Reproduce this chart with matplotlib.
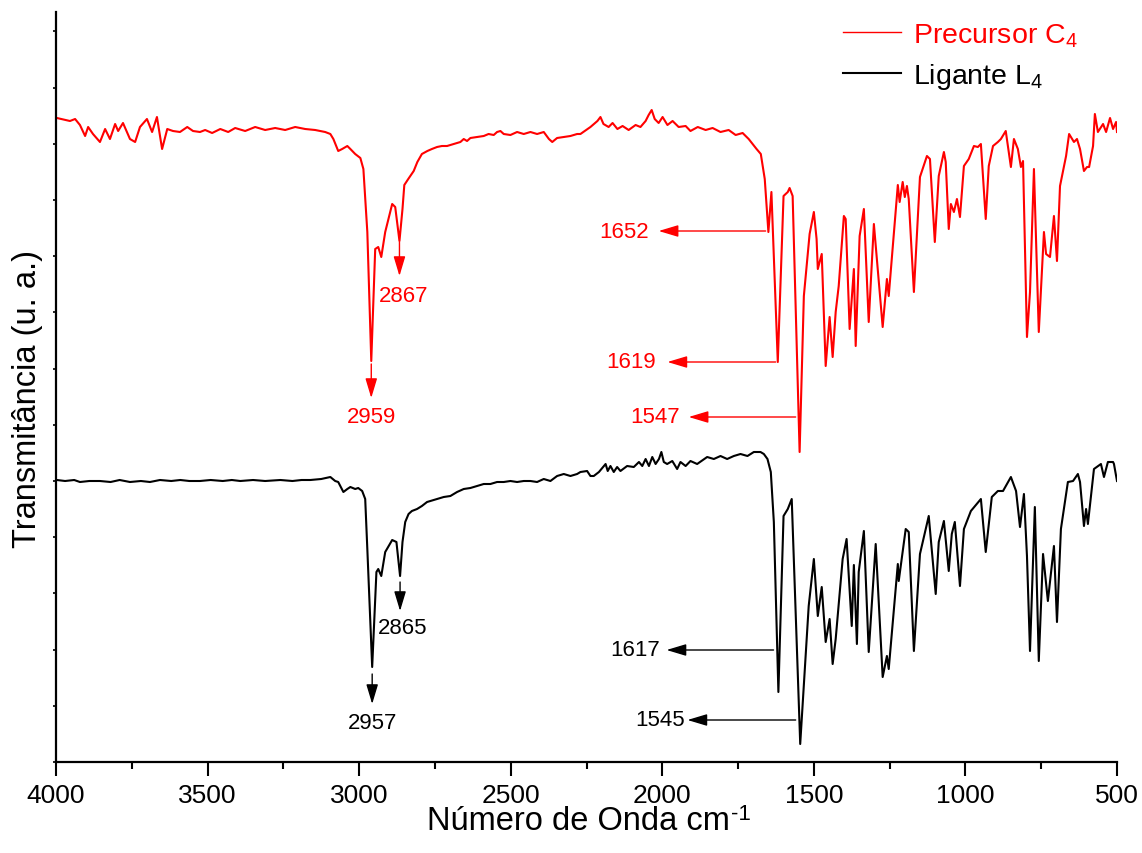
import matplotlib
matplotlib.use("Agg")
import matplotlib.pyplot as plt
from matplotlib.ticker import MultipleLocator, NullFormatter

plt.rcParams['font.family'] = ['Liberation Sans', 'DejaVu Sans']
plt.rcParams['mathtext.fontset'] = 'custom'
plt.rcParams['mathtext.rm'] = 'Liberation Sans'
plt.rcParams['mathtext.it'] = 'Liberation Sans:italic'
plt.rcParams['mathtext.bf'] = 'Liberation Sans:bold'

# ---------------- data (arbitrary transmittance units) ----------------
wn_precursor = [3997, 3954, 3937, 3921, 3904, 3894, 3878, 3855, 3838, 3822, 3805, 3795, 3779,
                3756, 3739, 3723, 3700, 3683, 3667, 3650, 3633, 3614, 3591, 3567, 3548, 3525,
                3508, 3485, 3458, 3432, 3409, 3376, 3343, 3310, 3277, 3244, 3211, 3178, 3145,
                3112, 3095, 3085, 3069, 3056, 3039, 3029, 3013, 2996, 2986, 2973, 2960, 2947,
                2937, 2927, 2914, 2891, 2881, 2867, 2857, 2851, 2838, 2820, 2808, 2793, 2775,
                2760, 2743, 2727, 2710, 2688, 2666, 2655, 2644, 2633, 2611, 2589, 2573, 2556,
                2545, 2534, 2523, 2501, 2479, 2457, 2435, 2413, 2391, 2374, 2363, 2347, 2325,
                2303, 2281, 2270, 2237, 2214, 2204, 2194, 2177, 2164, 2148, 2131, 2111, 2088,
                2072, 2055, 2045, 2035, 2025, 2012, 1999, 1983, 1966, 1946, 1923, 1907, 1883,
                1857, 1834, 1808, 1781, 1758, 1735, 1715, 1702, 1689, 1675, 1662, 1650, 1640,
                1619, 1600, 1586, 1580, 1570, 1547, 1533, 1514, 1500, 1491, 1487, 1474, 1461,
                1448, 1438, 1428, 1418, 1401, 1395, 1382, 1368, 1362, 1349, 1335, 1319, 1302,
                1273, 1259, 1253, 1223, 1217, 1207, 1200, 1193, 1187, 1170, 1150, 1127, 1117,
                1101, 1088, 1071, 1065, 1055, 1048, 1038, 1028, 1018, 1005, 989, 972, 959, 949,
                933, 923, 909, 893, 883, 867, 850, 840, 827, 817, 810, 797, 787, 774, 758, 741,
                734, 721, 708, 698, 688, 668, 658, 642, 632, 622, 609, 599, 592, 579, 573, 563,
                546, 536, 523, 513, 503, 500]
t_precursor = [644, 641, 643, 637, 626, 635, 628, 620, 633, 623, 638, 631, 639,
               623, 620, 635, 643, 630, 645, 613, 633, 631, 630, 635, 631, 630,
               632, 629, 633, 630, 634, 631, 635, 632, 634, 632, 635, 633, 632,
               630, 628, 623, 611, 613, 616, 613, 608, 604, 593, 530, 401, 513,
               515, 505, 530, 558, 555, 521, 553, 577, 583, 591, 600, 608, 611,
               613, 615, 616, 616, 618, 620, 623, 621, 624, 625, 626, 628, 627,
               630, 631, 628, 627, 630, 628, 630, 628, 630, 623, 620, 624, 625,
               626, 628, 628, 635, 641, 645, 638, 635, 639, 633, 636, 632, 637,
               635, 641, 647, 652, 643, 639, 645, 637, 641, 635, 636, 631, 635,
               632, 634, 630, 632, 627, 629, 623, 618, 613, 608, 583, 530, 570,
               400, 566, 570, 574, 566, 310, 466, 528, 550, 523, 493, 508, 396,
               445, 405, 450, 476, 546, 543, 433, 493, 416, 526, 553, 440, 538,
               435, 483, 466, 577, 560, 580, 565, 576, 563, 470, 585, 606, 603,
               520, 586, 610, 600, 533, 558, 550, 563, 545, 596, 603, 616, 615, 618,
               543, 596, 616, 620, 623, 631, 595, 623, 613, 595, 601, 425, 470, 593, 430, 530,
               508, 505, 546, 501, 576, 606, 628, 620, 623, 613, 591, 595, 595, 616, 648, 630,
               638, 630, 644, 633, 640, 630]

wn_ligante = [3997, 3970, 3940, 3921, 3890, 3855, 3820, 3790, 3756, 3720, 3690, 3657, 3620,
              3590, 3560, 3525, 3490, 3450, 3420, 3392, 3350, 3310, 3260, 3220, 3190, 3161,
              3125, 3095, 3079, 3069, 3052, 3039, 3029, 3013, 3003, 2990, 2980, 2973, 2957,
              2943, 2937, 2927, 2914, 2891, 2877, 2865, 2857, 2848, 2837, 2826, 2809, 2793,
              2776, 2765, 2743, 2721, 2699, 2677, 2655, 2633, 2611, 2589, 2567, 2545, 2523,
              2501, 2479, 2457, 2435, 2413, 2391, 2369, 2347, 2325, 2303, 2281, 2270, 2248,
              2237, 2226, 2209, 2198, 2187, 2180, 2171, 2160, 2149, 2138, 2116, 2094, 2077,
              2066, 2055, 2044, 2033, 2022, 2011, 2003, 1995, 1984, 1967, 1951, 1940, 1923,
              1907, 1885, 1852, 1830, 1808, 1786, 1764, 1742, 1719, 1698, 1676, 1665, 1653,
              1642, 1632, 1617, 1600, 1586, 1573, 1545, 1517, 1500, 1487, 1474, 1461, 1448,
              1438, 1428, 1405, 1392, 1375, 1368, 1358, 1352, 1335, 1319, 1296, 1273, 1259,
              1253, 1223, 1220, 1197, 1187, 1170, 1150, 1121, 1098, 1088, 1071, 1055, 1045,
              1035, 1018, 1005, 982, 949, 933, 913, 893, 876, 850, 833, 820, 807, 797, 787,
              771, 758, 744, 728, 708, 698, 685, 662, 645, 629, 622, 609, 602, 596, 576, 553,
              543, 530, 513, 510, 500]
t_ligante = [282, 281, 282, 280, 281, 281, 280, 282, 280, 281, 280, 282, 281,
             282, 281, 281, 282, 281, 282, 281, 282, 281, 282, 281, 282, 282,
             283, 285, 281, 280, 270, 273, 275, 273, 274, 271, 263, 213, 95,
             190, 193, 186, 210, 222, 220, 186, 220, 240, 248, 251, 253, 256,
             260, 261, 263, 265, 266, 270, 273, 274, 276, 278, 278, 280, 280,
             281, 280, 281, 281, 280, 283, 281, 286, 288, 286, 288, 290, 291,
             286, 286, 290, 294, 298, 291, 296, 290, 295, 291, 296, 295, 300,
             296, 303, 296, 305, 298, 303, 310, 300, 298, 301, 293, 300, 296,
             301, 298, 305, 303, 306, 303, 306, 308, 306, 310, 310, 308, 303,
             290, 240, 70, 246, 253, 263, 18, 156, 203, 146, 175, 120, 143,
             98, 123, 203, 223, 136, 197, 118, 190, 231, 110, 218, 85, 106,
             93, 198, 181, 233, 230, 111, 208, 246, 168, 220, 241, 191, 228,
             240, 176, 233, 251, 263, 210, 265, 271, 271, 285, 271, 235, 268, 206, 111,
             255, 101, 208, 161, 216, 140, 233, 280, 281, 288, 280, 236, 253, 238, 293, 298,
             285, 300, 300, 298, 281]

series_labels = ['Precursor C$_4$', 'Ligante L$_4$']
series_colors = ['#ff0000', '#000000']

# peak annotations: label, text position, arrow start, arrow tip, text alignment, colour
annotations = [
    ('2959', (2960, 345), (2960, 398), (2960, 364), 'center', '#ff0000'),
    ('2867', (2852, 466), (2867, 520), (2867, 486), 'center', '#ff0000'),
    ('1652', (2045, 531), (1659, 531), (2012, 531), 'right', '#ff0000'),
    ('1619', (2022, 400), (1626, 400), (1983, 400), 'right', '#ff0000'),
    ('1547', (1942, 345), (1560, 345), (1913, 345), 'right', '#ff0000'),
    ('2957', (2957, 39), (2957, 88), (2957, 58), 'center', '#000000'),
    ('2865', (2856, 135), (2865, 180), (2865, 151), 'center', '#000000'),
    ('1617', (2006, 112), (1633, 112), (1986, 112), 'right', '#000000'),
    ('1545', (1926, 42), (1560, 42), (1917, 42), 'right', '#000000'),
]

# ---------------- figure ----------------
W, H = 1142, 854
fig = plt.figure(figsize=(W / 100, H / 100), dpi=100)
ax = fig.add_axes([56 / W, 91 / H, 1061 / W, 750 / H])

ax.plot(wn_precursor, t_precursor, color=series_colors[0], lw=1.5, label=series_labels[0])
ax.plot(wn_ligante, t_ligante, color=series_colors[1], lw=1.5, label=series_labels[1])

ax.set_xlim(4000, 500)
ax.set_ylim(0, 750)

for spine in ['top', 'right']:
    ax.spines[spine].set_visible(False)
for spine in ['left', 'bottom']:
    ax.spines[spine].set_linewidth(1.6)

ax.xaxis.set_major_locator(MultipleLocator(500))
ax.xaxis.set_minor_locator(MultipleLocator(250))
ax.tick_params(axis='x', which='major', direction='out', length=10, width=1.5,
               labelsize=19, pad=5)
ax.tick_params(axis='x', which='minor', direction='out', length=5, width=1.5)

ax.yaxis.set_major_locator(MultipleLocator(56.2))
ax.yaxis.set_major_formatter(NullFormatter())
ax.tick_params(axis='y', which='major', direction='out', length=2.5, width=1.2)

ax.set_xlabel('Número de Onda cm', fontsize=23.5)
ax.set_ylabel('Transmitância (u. a.)', fontsize=23.5)
ax.xaxis.set_label_coords(0.492, -0.058)
ax.yaxis.set_label_coords(-0.0125, 0.486)

for text, tpos, start, tip, ha, col in annotations:
    ax.annotate('', xy=tip, xytext=start,
                arrowprops=dict(arrowstyle='-|>,head_length=0.6,head_width=0.18',
                                color=col, lw=1.0, mutation_scale=20,
                                shrinkA=0, shrinkB=0))
    ax.text(tpos[0], tpos[1], text, color=col, fontsize=16, ha=ha, va='center')

leg = ax.legend(loc='upper left', bbox_to_anchor=(843 / W, 1 - 22 / H),
                bbox_transform=fig.transFigure, frameon=False, fontsize=20.5,
                handlelength=2.05, handletextpad=0.4, labelspacing=0.45,
                borderpad=0, borderaxespad=0, labelcolor='linecolor')
for line in leg.get_lines():
    line.set_linewidth(1.5)
leg.get_lines()[0].set_linewidth(1.0)

# superscript "-1" after the x label
fig.canvas.draw()
bb = ax.xaxis.label.get_window_extent(fig.canvas.get_renderer())
fig.text((bb.x1 + 2) / W, (bb.y1 + 2) / H, '-1', fontsize=16, ha='left', va='top')

fig.savefig('out.png', dpi=100)
